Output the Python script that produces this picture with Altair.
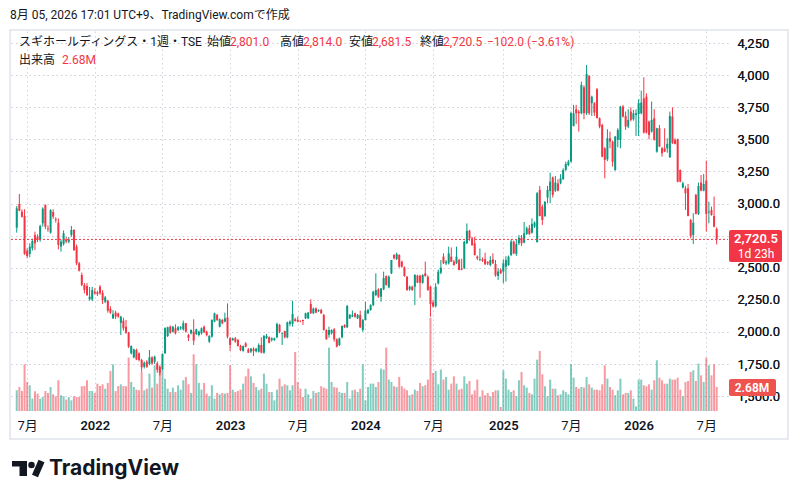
import altair as alt
import pandas as pd

# ---------------- data ----------------
dates = pd.date_range("2021-06-07", periods=270, freq="7D").strftime("%Y-%m-%d").tolist()

opens = [
    2812, 2996, 2936, 2903, 2633, 2607, 2651, 2755, 2742, 2721,
    2846, 2988, 2806, 2773, 2934, 2877, 2851, 2664, 2685, 2721,
    2703, 2755, 2794, 2664, 2534, 2443, 2365, 2357, 2254, 2254,
    2313, 2308, 2352, 2305, 2235, 2243, 2180, 2106, 2150, 2144,
    2070, 2087, 2040, 1994, 1833, 1802, 1859, 1833, 1781, 1729,
    1768, 1750, 1802, 1768, 1755, 1729, 1708, 1833, 1968, 2041,
    2002, 2028, 2015, 2028, 2020, 2067, 1976, 1989, 2002, 1984,
    1976, 1989, 2041, 2002, 1924, 1963, 2080, 2132, 2041, 2093,
    2080, 2113, 1950, 1937, 1950, 1937, 1890, 1852, 1911, 1864,
    1846, 1868, 1849, 1846, 1898, 1838, 1950, 1958, 1937, 1937,
    1958, 2055, 1984, 2007, 1958, 2062, 2062, 2098, 2093, 2085,
    2093, 2106, 2106, 2217, 2145, 2184, 2163, 2171, 2132, 2015,
    1976, 1989, 2020, 1942, 1898, 1958, 2054, 2036, 2106, 2119,
    2145, 2106, 2132, 2015, 2093, 2145, 2170, 2209, 2287, 2331,
    2274, 2331, 2435, 2347, 2456, 2599, 2567, 2599, 2547, 2502,
    2430, 2331, 2352, 2352, 2438, 2438, 2383, 2456, 2430, 2352,
    2230, 2200, 2378, 2461, 2586, 2534, 2534, 2586, 2547, 2534,
    2560, 2492, 2495, 2690, 2788, 2728, 2690, 2586, 2560, 2565,
    2565, 2545, 2521, 2565, 2529, 2436, 2483, 2470, 2508, 2521,
    2599, 2703, 2607, 2690, 2734, 2695, 2763, 2807, 2773, 2820,
    2700, 3106, 2976, 2903, 3046, 3098, 3204, 3100, 3157, 3157,
    3189, 3261, 3300, 3326, 3604, 3734, 3716, 3703, 3905, 3703,
    3993, 3781, 3781, 3890, 3664, 3612, 3430, 3344, 3508, 3482,
    3261, 3495, 3495, 3755, 3682, 3599, 3716, 3656, 3690, 3697,
    3703, 3819, 3832, 3638, 3560, 3664, 3404, 3586, 3430, 3430,
    3430, 3360, 3677, 3495, 3500, 3261, 3124, 3118, 3118, 2872,
    2755, 3067, 2919, 3163, 3100, 3178, 2930, 2950, 2903, 2801,
]
highs = [
    2980, 3074, 2955, 2955, 2650, 2690, 2726, 2781, 2760, 2835,
    2970, 2993, 2830, 2955, 2955, 2893, 2884, 2720, 2790, 2740,
    2740, 2825, 2800, 2680, 2545, 2462, 2380, 2380, 2350, 2350,
    2340, 2320, 2365, 2326, 2280, 2250, 2200, 2170, 2165, 2150,
    2125, 2110, 2093, 2000, 1895, 1870, 1870, 1840, 1790, 1770,
    1780, 1859, 1810, 1815, 1770, 1740, 1833, 2036, 2041, 2050,
    2045, 2059, 2045, 2045, 2088, 2070, 1985, 2020, 2098, 2025,
    2010, 2035, 2050, 2010, 1975, 2098, 2150, 2140, 2105, 2100,
    2150, 2222, 1960, 1955, 1960, 1945, 1900, 1895, 1920, 1875,
    1875, 1880, 1875, 1911, 1958, 1976, 1984, 1965, 1958, 1955,
    2072, 2062, 1995, 2010, 2080, 2090, 2243, 2110, 2119, 2090,
    2095, 2150, 2155, 2254, 2190, 2190, 2175, 2180, 2140, 2020,
    2041, 2020, 2030, 1950, 1955, 2050, 2060, 2210, 2140, 2166,
    2150, 2140, 2166, 2100, 2236, 2180, 2215, 2320, 2456, 2340,
    2340, 2469, 2440, 2440, 2560, 2605, 2617, 2605, 2555, 2510,
    2435, 2360, 2360, 2450, 2445, 2445, 2450, 2548, 2440, 2360,
    2250, 2380, 2485, 2560, 2612, 2560, 2664, 2658, 2560, 2664,
    2570, 2570, 2710, 2845, 2795, 2740, 2740, 2595, 2650, 2580,
    2617, 2550, 2590, 2612, 2560, 2496, 2496, 2566, 2590, 2595,
    2721, 2710, 2716, 2755, 2755, 2856, 2820, 2833, 2885, 2860,
    3090, 3137, 2990, 3020, 3137, 3241, 3210, 3215, 3189, 3228,
    3274, 3326, 3340, 3716, 3768, 3768, 3730, 3949, 3920, 4079,
    4000, 3840, 3790, 3900, 3670, 3620, 3438, 3578, 3560, 3490,
    3526, 3586, 3760, 3768, 3716, 3734, 3749, 3729, 3734, 3812,
    3879, 3983, 3858, 3645, 3794, 3734, 3590, 3612, 3440, 3586,
    3508, 3716, 3749, 3508, 3505, 3265, 3170, 3137, 3152, 2880,
    2924, 3075, 3163, 3222, 3230, 3334, 3015, 2976, 3054, 2814,
]
lows = [
    2773, 2940, 2890, 2600, 2575, 2581, 2633, 2638, 2700, 2703,
    2820, 2800, 2780, 2766, 2880, 2851, 2643, 2625, 2672, 2690,
    2690, 2742, 2630, 2520, 2470, 2357, 2300, 2280, 2245, 2240,
    2290, 2280, 2290, 2217, 2225, 2150, 2140, 2100, 2100, 2110,
    1975, 2010, 1985, 1875, 1825, 1795, 1780, 1770, 1690, 1715,
    1720, 1740, 1745, 1750, 1682, 1660, 1700, 1830, 1960, 1985,
    1995, 1980, 2005, 2015, 2010, 1995, 1929, 1980, 1898, 1975,
    1965, 1980, 1990, 1965, 1915, 1955, 2075, 2085, 2035, 2060,
    2075, 1950, 1851, 1930, 1915, 1885, 1850, 1845, 1880, 1835,
    1835, 1812, 1840, 1840, 1833, 1830, 1945, 1910, 1924, 1930,
    1950, 1990, 1898, 1950, 1950, 2045, 2041, 2080, 2075, 2075,
    2054, 2100, 2100, 2140, 2140, 2145, 2155, 2140, 2010, 1940,
    1955, 1980, 1924, 1880, 1890, 1950, 2030, 2030, 2100, 2115,
    2110, 2100, 2030, 2000, 2090, 2140, 2165, 2200, 2280, 2265,
    2235, 2325, 2360, 2340, 2450, 2565, 2560, 2500, 2500, 2430,
    2320, 2320, 2320, 2210, 2380, 2266, 2375, 2430, 2320, 2118,
    2190, 2190, 2370, 2450, 2530, 2520, 2525, 2545, 2515, 2530,
    2480, 2480, 2490, 2685, 2710, 2670, 2595, 2560, 2550, 2545,
    2520, 2520, 2510, 2530, 2430, 2405, 2450, 2379, 2392, 2515,
    2590, 2605, 2592, 2677, 2669, 2690, 2755, 2755, 2765, 2810,
    2695, 2900, 2833, 2895, 3002, 3002, 3046, 3090, 3095, 3150,
    3185, 3255, 3290, 3320, 3600, 3620, 3560, 3695, 3656, 3690,
    3690, 3682, 3682, 3664, 3586, 3360, 3196, 3330, 3430, 3287,
    3255, 3438, 3430, 3670, 3573, 3586, 3640, 3645, 3526, 3526,
    3695, 3545, 3545, 3500, 3552, 3490, 3396, 3440, 3365, 3400,
    3396, 3355, 3465, 3460, 3165, 3165, 3118, 2950, 2900, 2729,
    2685, 2915, 2910, 3095, 3095, 2781, 2846, 2905, 2815, 2681.5,
]
closes = [
    2962, 2944, 2897, 2607, 2591, 2664, 2708, 2690, 2716, 2825,
    2960, 2820, 2799, 2949, 2898, 2870, 2677, 2703, 2768, 2703,
    2721, 2794, 2638, 2534, 2477, 2365, 2326, 2287, 2274, 2326,
    2300, 2295, 2300, 2248, 2269, 2165, 2150, 2139, 2119, 2119,
    2119, 2028, 1994, 1885, 1890, 1864, 1786, 1781, 1724, 1760,
    1729, 1802, 1755, 1807, 1703, 1682, 1828, 2030, 2036, 1994,
    2041, 1989, 2036, 2036, 2067, 2002, 1955, 2015, 1932, 2020,
    2002, 2028, 1997, 1976, 1968, 2093, 2145, 2093, 2098, 2067,
    2106, 1963, 1898, 1950, 1924, 1890, 1859, 1890, 1885, 1838,
    1870, 1850, 1870, 1898, 1838, 1968, 1968, 1916, 1950, 1950,
    2062, 2000, 1989, 1958, 2075, 2080, 2140, 2085, 2080, 2083,
    2085, 2145, 2150, 2145, 2181, 2150, 2171, 2145, 2015, 1942,
    2015, 2015, 1942, 1885, 1950, 2046, 2036, 2202, 2132, 2132,
    2119, 2132, 2036, 2093, 2166, 2171, 2209, 2313, 2326, 2274,
    2339, 2420, 2365, 2430, 2560, 2573, 2606, 2508, 2508, 2435,
    2326, 2352, 2326, 2443, 2383, 2383, 2443, 2435, 2326, 2217,
    2200, 2352, 2469, 2500, 2534, 2547, 2612, 2547, 2521, 2586,
    2482, 2485, 2702, 2788, 2728, 2676, 2599, 2573, 2565, 2555,
    2528, 2534, 2560, 2534, 2440, 2470, 2457, 2534, 2560, 2586,
    2703, 2612, 2685, 2734, 2690, 2768, 2807, 2763, 2841, 2851,
    3080, 2903, 2872, 3012, 3106, 3170, 3067, 3163, 3100, 3196,
    3261, 3308, 3326, 3703, 3703, 3703, 3703, 3923, 3703, 4009,
    3703, 3832, 3708, 3664, 3599, 3365, 3339, 3508, 3482, 3326,
    3521, 3573, 3755, 3677, 3599, 3651, 3651, 3703, 3703, 3781,
    3786, 3552, 3552, 3534, 3651, 3495, 3586, 3443, 3391, 3404,
    3464, 3682, 3469, 3464, 3170, 3170, 3157, 3080, 2903, 2747,
    2851, 2919, 3137, 3100, 3152, 2919, 2937, 2911, 2820, 2720.5,
]
volumes = [  # millions of shares
    2.31, 2.68, 2.23, 5.21, 3.24, 2.87, 1.38, 2.20, 1.94, 1.38,
    1.56, 2.23, 2.01, 2.68, 1.86, 1.64, 3.43, 1.75, 1.64, 1.27,
    1.56, 1.19, 1.64, 1.56, 1.56, 2.76, 2.79, 3.43, 2.23, 2.23,
    2.01, 3.05, 2.79, 2.98, 2.49, 3.13, 4.47, 5.21, 2.23, 2.79,
    2.98, 2.79, 2.76, 5.96, 3.24, 2.68, 2.38, 2.31, 4.36, 2.31,
    2.49, 4.17, 2.61, 5.10, 3.05, 4.54, 4.54, 3.61, 2.49, 2.12,
    2.61, 2.12, 2.87, 2.38, 3.43, 3.80, 2.98, 2.01, 6.33, 5.21,
    3.13, 2.38, 3.13, 1.94, 1.64, 2.87, 1.38, 2.01, 1.86, 2.01,
    1.94, 2.01, 5.10, 2.38, 2.12, 2.23, 2.38, 3.05, 3.87, 4.73,
    3.87, 3.13, 2.68, 2.31, 2.49, 4.17, 3.05, 2.12, 2.12, 1.19,
    2.38, 3.61, 2.76, 2.98, 2.87, 2.31, 2.87, 6.59, 3.24, 2.49,
    1.56, 2.49, 1.86, 1.38, 2.23, 2.01, 2.12, 2.76, 2.61, 2.49,
    7.07, 3.24, 2.68, 2.61, 2.12, 2.01, 2.01, 3.24, 1.38, 2.31,
    2.38, 2.12, 2.49, 5.21, 1.19, 2.68, 3.05, 3.05, 2.68, 3.24,
    4.73, 4.62, 7.07, 3.50, 3.24, 2.76, 2.68, 3.80,
    2.76, 2.49, 2.31, 1.75, 1.86, 2.38, 2.23, 3.13, 2.76, 2.87,
    3.50, 10.4, 4.24, 4.47, 2.98, 4.62, 3.50, 3.80, 2.38, 3.05,
    3.87, 3.05, 2.38, 2.49, 3.87, 3.05, 3.35, 1.86, 2.31, 3.50,
    1.56, 2.31, 1.75, 2.01, 1.64, 2.12, 2.31, 2.31, 0.45, 4.54,
    3.61, 2.38, 2.12, 2.31, 1.64, 3.43, 4.36, 2.87, 2.61, 2.01,
    1.86, 3.61, 5.73, 6.70, 4.10, 2.76, 1.64, 3.50, 2.49, 2.49,
    1.75, 1.86, 2.31, 2.12, 1.86, 5.21, 3.72, 2.68, 2.49, 2.68,
    2.61, 3.80, 2.98, 2.61, 2.38, 2.38, 2.31, 2.98, 5.10, 3.61,
    2.68, 2.38, 1.75, 2.31, 3.61, 1.86, 2.01, 2.01, 2.31, 1.38,
    0.52, 3.50, 3.50, 2.87, 2.76, 2.98, 2.38, 3.43, 5.66, 3.72,
    3.43, 3.05, 3.05, 3.61, 3.50, 3.50, 3.72, 2.38, 1.64, 3.24,
    3.35, 4.36, 4.54, 3.35, 5.29, 3.98, 3.24, 5.96, 5.10, 3.98,
    5.21, 2.68,
]
price_ticks = [1500, 1750, 2000, 2250, 2500, 2750, 3000, 3250, 3500, 3750, 4000, 4250]
month_ticks = [(2021, 7, 5), (2022, 1, 3), (2022, 7, 4), (2023, 1, 2), (2023, 7, 3),
               (2024, 1, 1), (2024, 7, 1), (2025, 1, 6), (2025, 7, 7), (2026, 1, 5), (2026, 7, 6)]

header_text = "8月 05, 2026 17:01 UTC+9、TradingView.comで作成"
symbol_text = "スギホールディングス・1週・TSE"
legend_items = [("始値", "2,801.0"), ("高値", "2,814.0"), ("安値", "2,681.5"), ("終値", "2,720.5")]
change_text = "−102.0 (−3.61%)"
volume_label = "出来高"
volume_value = "2.68M"
countdown_text = "1d 23h"

assert all(len(a) == 270 for a in (dates, opens, highs, lows, closes, volumes)), \
    [len(a) for a in (dates, opens, highs, lows, closes, volumes)]

df = pd.DataFrame(dict(date=dates, open=opens, high=highs, low=lows, close=closes, volume=volumes))
df["dir"] = ["up" if c >= o else "down" for o, c in zip(opens, closes)]

# ---------------- styling ----------------
FONT = "Roboto, 'Noto Sans CJK JP', sans-serif"
UP, DOWN, INK = "#089981", "#f23645", "#131722"
GRID = "#d1d4dc"
W, H = 717, 380            # plot area
OX, OY = 11, 31            # plot origin on the page (absolute px)

color = alt.Color("dir:N", scale=alt.Scale(domain=["up", "down"], range=[UP, DOWN]), legend=None)

x_axis = alt.Axis(
    values=[alt.DateTime(year=y, month=m, date=d, utc=True) for y, m, d in month_ticks],
    labelExpr="utcmonth(datum.value) == 0 ? utcFormat(datum.value, '%Y') : (utcmonth(datum.value) + 1) + '月'",
    labelFontWeight={"condition": {"test": "utcmonth(datum.value) == 0", "value": 600}, "value": 400},
    title=None, grid=True, gridDash=[1.5, 3], gridColor=GRID, gridWidth=1,
    ticks=False, tickSize=0, domain=False, labelFont=FONT, labelFontSize=13, labelColor=INK,
    labelBaseline="middle", labelPadding=14, labelOverlap=False,
)
x_enc = alt.X("date:T", axis=x_axis,
              scale=alt.Scale(type="utc", domain=[alt.DateTime(year=2021, month=6, date=5, utc=True),
                                                  alt.DateTime(year=2026, month=8, date=20, utc=True)]))

# the 2,750 label sits under the last-price tag in the reference, so it is left blank
price_scale = alt.Scale(domain=[1384, 4343.5], nice=False, zero=False)
y_axis = alt.Axis(
    orient="right", values=price_ticks,
    labelExpr=("datum.value == 2750 ? '' : (datum.value >= 3250 ? format(datum.value, ',') "
               ": format(datum.value, ',.1f'))"),
    title=None, grid=True, gridDash=[1.5, 3], gridColor=GRID, gridWidth=1,
    ticks=False, tickSize=0, domain=False, labelFont=FONT, labelFontSize=13, labelColor=INK,
    labelAlign="left", labelBaseline="middle", labelPadding=9, labelOverlap=False, labelBound=False,
)

base = alt.Chart(df)

volume = base.mark_bar(size=2, opacity=0.5).encode(
    x=x_enc,
    y=alt.Y("volume:Q", scale=alt.Scale(domain=[0, 42.4], nice=False, zero=True), axis=None),
    color=color,
)

wick = base.mark_rule(strokeWidth=1).encode(
    x=x_enc, y=alt.Y("low:Q", scale=price_scale, axis=y_axis, title=None), y2="high:Q", color=color)
body = base.mark_bar(size=2).encode(
    x=x_enc, y=alt.Y("open:Q", scale=price_scale, axis=y_axis, title=None), y2="close:Q", color=color)

last = pd.DataFrame({"close": [closes[-1]]})
last_line = alt.Chart(last).mark_rule(color=DOWN, strokeDash=[2, 2], strokeWidth=1).encode(
    y=alt.Y("close:Q", scale=price_scale, axis=y_axis, title=None), x=alt.value(0), x2=alt.value(W))
price_text = alt.Chart(last).mark_text(color="white", font=FONT, fontSize=13, fontWeight=600,
                                       align="center", baseline="middle").encode(
    y=alt.Y("close:Q", scale=price_scale, axis=y_axis, title=None), x=alt.value(756 - OX),
    text=alt.Text("close:Q", format=",.1f"))

price = alt.layer(wick, body, last_line)

one = pd.DataFrame({"k": [0]})


def label(text, x, y, color=INK, size=12, weight=400, align="left", font=FONT):
    return alt.Chart(one).mark_text(text=text, align=align, baseline="middle", fontSize=size,
                                    fontWeight=weight, color=color, font=font).encode(
        x=alt.value(x - OX), y=alt.value(y - OY))


def box(x1, x2, y1, y2, fill, **kw):
    return alt.Chart(one).mark_rect(color=fill, **kw).encode(
        x=alt.value(x1 - OX), x2=alt.value(x2 - OX), y=alt.value(y1 - OY), y2=alt.value(y2 - OY))


annotations = [
    alt.Chart(one).mark_rect(fillOpacity=0, stroke="#e0e3eb", strokeWidth=1.5).encode(
        x=alt.value(10 - OX), x2=alt.value(788 - OX), y=alt.value(30 - OY), y2=alt.value(439 - OY)),
    box(729, 782, 230, 262, DOWN, cornerRadius=2),
    label(countdown_text, 756, 254, color="white", size=12, align="center"),
    box(729, 776, 379, 396, "#ef5350", cornerRadius=2),
    label(volume_value, 752, 387.5, color="white", size=12, weight=600, align="center"),
    label(header_text, 10, 14.5, size=12),
    label(symbol_text, 19, 42, size=12),
    label(volume_label, 19, 60, size=12),
    label(volume_value, 62, 60, color=DOWN, size=12),
    label(change_text, 487, 42, color=DOWN, size=12),
    # TradingView footer logo
    box(12, 27, 461, 466.5, INK),
    box(19.5, 27, 461, 476, INK),
    alt.Chart(one).mark_point(filled=True, color=INK, size=42, opacity=1).encode(
        x=alt.value(31.5 - OX), y=alt.value(465 - OY)),
    alt.Chart(one).mark_rule(color=INK, strokeWidth=6.5).encode(
        x=alt.value(35 - OX), y=alt.value(476 - OY), x2=alt.value(41.5 - OX), y2=alt.value(461 - OY)),
    label("TradingView", 49, 468.5, size=21, weight=700, font="Inter, Roboto, sans-serif"),
]
for (name, val), xl in zip(legend_items, [207, 280, 349, 420]):
    annotations.append(label(name, xl, 42, size=12))
    annotations.append(label(val, xl + 23, 42, color=DOWN, size=12))

price_label = alt.layer(price_text)

chart = alt.layer(volume, price, *annotations, price_label).resolve_scale(y="independent").properties(
    width=W, height=H,
    padding={"left": OX - 8, "top": OY - 8, "right": 790 - (OX + W), "bottom": 491 - (OY + H)},
    autosize=alt.AutoSizeParams(type="none"),
    background="white",
).configure_view(stroke=None)

chart.save("out.html", embed_options={"renderer": "svg", "actions": False})
